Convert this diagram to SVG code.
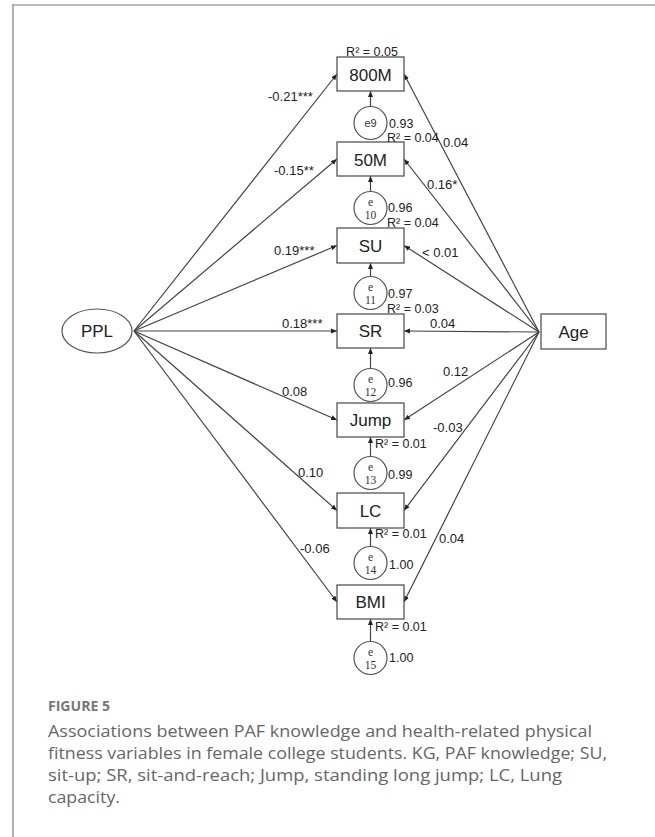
<svg xmlns="http://www.w3.org/2000/svg" width="655" height="837" viewBox="0 0 655 837">
<style>
.box{fill:#fff;stroke:#555;stroke-width:1.3}
.circ{fill:#fff;stroke:#555;stroke-width:1.2}
.conn{stroke:#444;stroke-width:1.2;fill:none}
.nl{font-family:"Liberation Sans",Arial,sans-serif;font-size:17px;fill:#222;text-anchor:middle}
.lab{font-family:"Liberation Sans",Arial,sans-serif;font-size:12.5px;fill:#222}
.cl{font-family:"Liberation Sans",Arial,sans-serif;font-size:13px;fill:#222}
.el{font-family:"Liberation Serif","Times New Roman",serif;font-size:11.5px;fill:#333;text-anchor:middle}
.cap{font-family:"Open Sans","Liberation Sans",sans-serif;font-size:17px;fill:#666}
.fig{font-family:"Open Sans","Liberation Sans",sans-serif;font-size:13.5px;font-weight:bold;fill:#777}
</style>
<defs>
<marker id="ah" markerUnits="userSpaceOnUse" markerWidth="6" markerHeight="6" refX="6" refY="3" orient="auto">
<path d="M0,0.5 L6,3 L0,5.5 z" fill="#222"/>
</marker>
</defs>
<rect width="655" height="837" fill="#fff"/>
<line x1="13" y1="5" x2="655" y2="5" stroke="#bbb" stroke-width="2"/>
<line x1="13" y1="4" x2="13" y2="837" stroke="#999" stroke-width="1.5"/>

<g id="connectors">
<line class="conn" x1="134" y1="331" x2="337" y2="74" marker-end="url(#ah)"/>
<line class="conn" x1="134" y1="331" x2="337" y2="159" marker-end="url(#ah)"/>
<line class="conn" x1="134" y1="331" x2="337" y2="245.5" marker-end="url(#ah)"/>
<line class="conn" x1="134" y1="331" x2="337" y2="331" marker-end="url(#ah)"/>
<line class="conn" x1="134" y1="331" x2="337" y2="420" marker-end="url(#ah)"/>
<line class="conn" x1="134" y1="331" x2="337" y2="510.5" marker-end="url(#ah)"/>
<line class="conn" x1="134" y1="331" x2="337" y2="602" marker-end="url(#ah)"/>
<line class="conn" x1="539" y1="332" x2="404" y2="74" marker-end="url(#ah)"/>
<line class="conn" x1="539" y1="332" x2="404" y2="159" marker-end="url(#ah)"/>
<line class="conn" x1="539" y1="332" x2="404" y2="245.5" marker-end="url(#ah)"/>
<line class="conn" x1="539" y1="332" x2="404" y2="331" marker-end="url(#ah)"/>
<line class="conn" x1="539" y1="332" x2="404" y2="420" marker-end="url(#ah)"/>
<line class="conn" x1="539" y1="332" x2="404" y2="510.5" marker-end="url(#ah)"/>
<line class="conn" x1="539" y1="332" x2="404" y2="602" marker-end="url(#ah)"/>
<line class="conn" x1="370.5" y1="106" x2="370.5" y2="91" marker-end="url(#ah)"/>
<line class="conn" x1="370.5" y1="191.5" x2="370.5" y2="176" marker-end="url(#ah)"/>
<line class="conn" x1="370.5" y1="276.5" x2="370.5" y2="263" marker-end="url(#ah)"/>
<line class="conn" x1="370.5" y1="368.5" x2="370.5" y2="348" marker-end="url(#ah)"/>
<line class="conn" x1="370.5" y1="456.5" x2="370.5" y2="437" marker-end="url(#ah)"/>
<line class="conn" x1="370.5" y1="546.5" x2="370.5" y2="528" marker-end="url(#ah)"/>
<line class="conn" x1="370.5" y1="641.5" x2="370.5" y2="619" marker-end="url(#ah)"/>
</g>

<g id="connector-labels">
<text class="cl" x="268" y="101">-0.21***</text>
<text class="cl" x="274" y="175">-0.15**</text>
<text class="cl" x="274" y="255">0.19***</text>
<text class="cl" x="282" y="328">0.18***</text>
<text class="cl" x="282" y="396">0.08</text>
<text class="cl" x="298" y="477">0.10</text>
<text class="cl" x="300" y="553">-0.06</text>
<text class="cl" x="443" y="147">0.04</text>
<text class="cl" x="427" y="189">0.16*</text>
<text class="cl" x="422" y="257">&lt; 0.01</text>
<text class="cl" x="430" y="328">0.04</text>
<text class="cl" x="443" y="376">0.12</text>
<text class="cl" x="433" y="432">-0.03</text>
<text class="cl" x="439" y="543">0.04</text>
</g>

<g id="PPL">
<ellipse cx="97" cy="331" rx="35" ry="22" class="circ"/>
<text class="nl" x="97" y="337" font-size="15.5">PPL</text>
</g>
<g id="Age">
<rect x="541" y="314" width="65" height="35" class="box"/>
<text class="nl" x="573.5" y="337.5" font-size="16">Age</text>
</g>

<g id="n800M">
<rect x="337" y="57" width="67" height="34" class="box"/>
<text class="nl" x="370.5" y="80.5">800M</text>
<text class="lab" x="372" y="56" text-anchor="middle">R² = 0.05</text>
</g>
<g id="n50M">
<rect x="337" y="142" width="67" height="34" class="box"/>
<text class="nl" x="370.5" y="165.5">50M</text>
<text class="lab" x="387" y="142">R² = 0.04</text>
</g>
<g id="nSU">
<rect x="337" y="228" width="67" height="35" class="box"/>
<text class="nl" x="370.5" y="251.5">SU</text>
<text class="lab" x="387" y="227">R² = 0.04</text>
</g>
<g id="nSR">
<rect x="337" y="314" width="67" height="34" class="box"/>
<text class="nl" x="370.5" y="337">SR</text>
<text class="lab" x="387" y="313">R² = 0.03</text>
</g>
<g id="nJump">
<rect x="337" y="403" width="67" height="34" class="box"/>
<text class="nl" x="370.5" y="426">Jump</text>
<text class="lab" x="375" y="448">R² = 0.01</text>
</g>
<g id="nLC">
<rect x="337" y="493" width="67" height="35" class="box"/>
<text class="nl" x="370.5" y="516.5">LC</text>
<text class="lab" x="375" y="538">R² = 0.01</text>
</g>
<g id="nBMI">
<rect x="337" y="585" width="67" height="34" class="box"/>
<text class="nl" x="370.5" y="608">BMI</text>
<text class="lab" x="375" y="631">R² = 0.01</text>
</g>

<g id="e9">
<circle cx="370.5" cy="123" r="16.5" class="circ"/>
<text x="370.5" y="127" font-family="Liberation Sans,Arial,sans-serif" font-size="11" fill="#333" text-anchor="middle">e9</text>
<text class="lab" x="389" y="128">0.93</text>
</g>
<g id="e10">
<circle cx="370.5" cy="208" r="16.5" class="circ"/>
<text class="el" x="370.5" y="206">e</text>
<text class="el" x="370.5" y="219">10</text>
<text class="lab" x="388" y="212">0.96</text>
</g>
<g id="e11">
<circle cx="370.5" cy="293" r="16.5" class="circ"/>
<text class="el" x="370.5" y="291">e</text>
<text class="el" x="370.5" y="304">11</text>
<text class="lab" x="388" y="298">0.97</text>
</g>
<g id="e12">
<circle cx="370.5" cy="385" r="16.5" class="circ"/>
<text class="el" x="370.5" y="383">e</text>
<text class="el" x="370.5" y="396">12</text>
<text class="lab" x="388" y="387">0.96</text>
</g>
<g id="e13">
<circle cx="370.5" cy="473" r="16.5" class="circ"/>
<text class="el" x="370.5" y="471">e</text>
<text class="el" x="370.5" y="484">13</text>
<text class="lab" x="388" y="479">0.99</text>
</g>
<g id="e14">
<circle cx="370.5" cy="563" r="16.5" class="circ"/>
<text class="el" x="370.5" y="561">e</text>
<text class="el" x="370.5" y="574">14</text>
<text class="lab" x="389" y="569">1.00</text>
</g>
<g id="e15">
<circle cx="370.5" cy="658" r="16.5" class="circ"/>
<text class="el" x="370.5" y="656">e</text>
<text class="el" x="370.5" y="669">15</text>
<text class="lab" x="389" y="662">1.00</text>
</g>

<g id="caption">
<text class="fig" x="48" y="711" textLength="62" lengthAdjust="spacingAndGlyphs">FIGURE 5</text>
<text class="cap" x="48" y="737" textLength="544" lengthAdjust="spacingAndGlyphs">Associations between PAF knowledge and health-related physical</text>
<text class="cap" x="48" y="759" textLength="559" lengthAdjust="spacingAndGlyphs">fitness variables in female college students. KG, PAF knowledge; SU,</text>
<text class="cap" x="48" y="781" textLength="514" lengthAdjust="spacingAndGlyphs">sit-up; SR, sit-and-reach; Jump, standing long jump; LC, Lung</text>
<text class="cap" x="48" y="803" textLength="72" lengthAdjust="spacingAndGlyphs">capacity.</text>
</g>
</svg>
